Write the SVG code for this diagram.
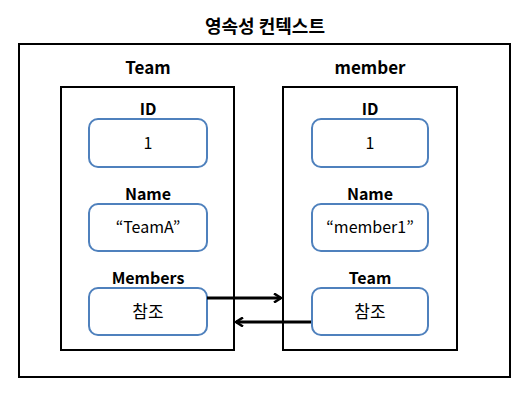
<svg xmlns="http://www.w3.org/2000/svg" width="530" height="402" viewBox="0 0 530 402">
<style>
text{font-family:"Noto Sans CJK KR","Liberation Sans",sans-serif;text-anchor:middle;fill:#000}
.t{font-size:17px;font-weight:bold}
.h{font-size:18px;font-weight:bold}
.l{font-size:16px;font-weight:bold}
.v{font-size:16px}
.k{font-size:17px}
.c{fill:#fff;stroke:#000;stroke-width:2}
.b{fill:#fff;stroke:#4F81BD;stroke-width:2}
.a{fill:none;stroke:#000;stroke-width:3}
</style>
<defs>
<marker id="ah" markerWidth="10" markerHeight="10" refX="8" refY="5" orient="auto" markerUnits="userSpaceOnUse">
<path d="M1,0.5 L8,5 L1,9.5" fill="none" stroke="#000" stroke-width="2.5"/>
</marker>
</defs>
<rect width="530" height="402" fill="#fff"/>
<g id="context">
<text class="h" x="265" y="33">영속성 컨텍스트</text>
<rect class="c" x="19" y="44" width="491" height="333"/>
</g>
<g id="team">
<text class="t" x="148" y="74">Team</text>
<rect class="c" x="61" y="87" width="173" height="263"/>
<text class="l" x="148" y="115">ID</text>
<rect class="b" x="89" y="119" width="118" height="48" rx="9"/>
<text class="v" x="148" y="149">1</text>
<text class="l" x="148" y="200">Name</text>
<rect class="b" x="89" y="204" width="118" height="47" rx="9"/>
<text class="v" x="148" y="233">“TeamA”</text>
<text class="l" x="148" y="284">Members</text>
<rect class="b" x="89" y="288" width="118" height="47" rx="9"/>
<text class="k" x="148" y="318">참조</text>
</g>
<g id="member">
<text class="t" x="370" y="74">member</text>
<rect class="c" x="283" y="87" width="174" height="263"/>
<text class="l" x="370" y="115">ID</text>
<rect class="b" x="312" y="119" width="116" height="48" rx="9"/>
<text class="v" x="370" y="149">1</text>
<text class="l" x="370" y="200">Name</text>
<rect class="b" x="312" y="204" width="116" height="47" rx="9"/>
<text class="v" x="370" y="233">“member1”</text>
<text class="l" x="370" y="284">Team</text>
<rect class="b" x="312" y="288" width="116" height="47" rx="9"/>
<text class="k" x="370" y="318">참조</text>
</g>
<g id="connectors">
<line class="a" x1="207" y1="298" x2="281" y2="298" marker-end="url(#ah)"/>
<line class="a" x1="311" y1="322" x2="236" y2="322" marker-end="url(#ah)"/>
</g>
</svg>
